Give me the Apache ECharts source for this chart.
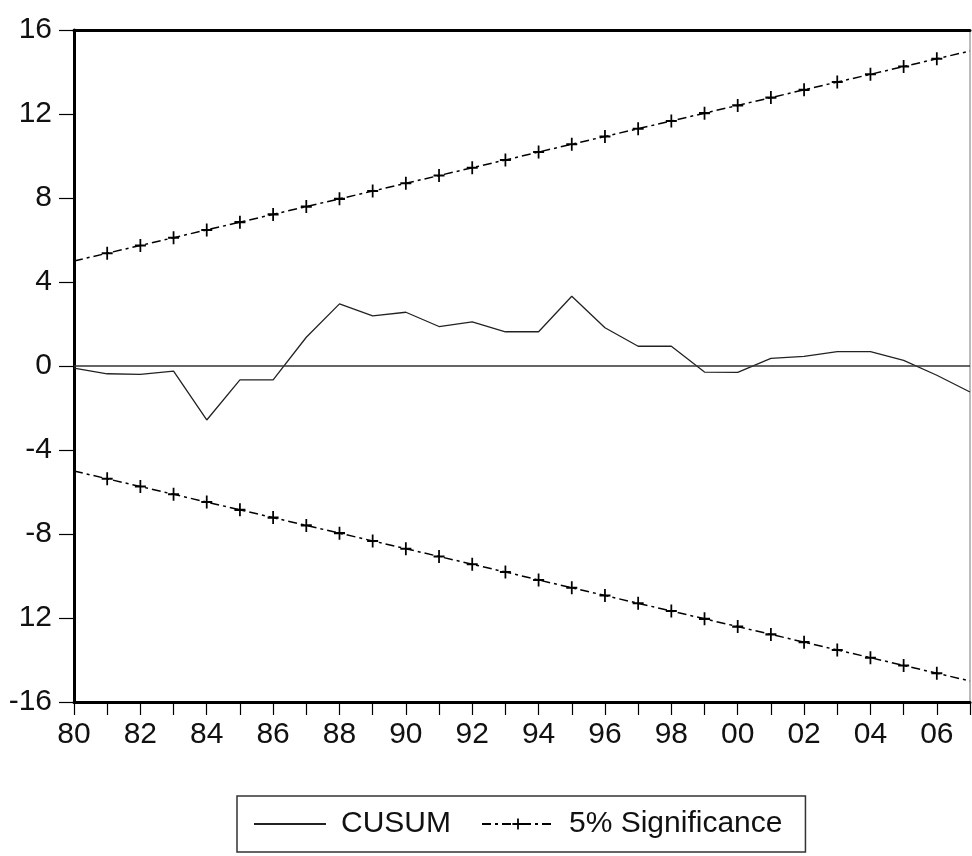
<!DOCTYPE html>
<html>
<head>
<meta charset="utf-8">
<script src="https://cdn.jsdelivr.net/npm/echarts@6/dist/echarts.min.js"></script>
<style>
html,body{margin:0;padding:0;background:#fff;}
#chart{width:972px;height:856px;}
</style>
</head>
<body>
<div id="chart"></div>
<script>
// Year labels (1980..2007)
var years = ['80','81','82','83','84','85','86','87','88','89','90','91','92','93','94','95','96','97','98','99','00','01','02','03','04','05','06','07'];

// CUSUM statistic
var cusum = [-0.10,-0.37,-0.40,-0.24,-2.57,-0.66,-0.66,1.37,2.96,2.39,2.56,1.88,2.10,1.63,1.63,3.32,1.82,0.94,0.94,-0.29,-0.30,0.36,0.46,0.68,0.68,0.27,-0.44,-1.24];

// 5% significance bounds
var upperBound = [5.00,5.37,5.74,6.11,6.48,6.85,7.22,7.59,7.96,8.33,8.70,9.07,9.44,9.81,10.19,10.56,10.93,11.30,11.67,12.04,12.41,12.78,13.15,13.52,13.89,14.26,14.63,15.00];
var lowerBound = [-5.00,-5.37,-5.74,-6.11,-6.48,-6.85,-7.22,-7.59,-7.96,-8.33,-8.70,-9.07,-9.44,-9.81,-10.19,-10.56,-10.93,-11.30,-11.67,-12.04,-12.41,-12.78,-13.15,-13.52,-13.89,-14.26,-14.63,-15.00];

// Y tick labels as printed in the reference (bottom to top)
var yTickLabels = ['-16','12','-8','-4','0','4','8','12','16'];

var FONT = 'Liberation Sans, Arial, sans-serif';
var crossPath = 'path://M4.2,0 H5.8 V4.2 H10 V5.8 H5.8 V10 H4.2 V5.8 H0 V4.2 H4.2 Z';

// end points sit on the frame: no marker there
function boundData(arr) {
  return arr.map(function (v, i) {
    return (i === 0 || i === arr.length - 1) ? {value: v, symbol: 'none'} : v;
  });
}

var chart = echarts.init(document.getElementById('chart'), null, {renderer:'canvas'});

var sigStyle = {
  type: 'line',
  name: '5% Significance',
  symbol: crossPath,
  symbolSize: [11, 13],
  showSymbol: true,
  showAllSymbol: true,
  itemStyle: {color: '#000'},
  lineStyle: {color: '#000', width: 1.5, type: [9, 4, 3, 4]},
  animation: false,
  silent: true,
  z: 3
};

chart.setOption({
  animation: false,
  backgroundColor: '#fff',
  textStyle: {fontFamily: FONT},
  grid: {
    left: 74, top: 30, right: 2, bottom: 154,
    show: true, borderColor: '#777', borderWidth: 1, backgroundColor: '#fff'
  },
  legend: {
    data: [
      {name: 'CUSUM', itemStyle: {color: 'rgba(0,0,0,0)', borderColor: 'rgba(0,0,0,0)', borderWidth: 0, opacity: 0}},
      {name: '5% Significance'}
    ],
    left: 237, top: 796,
    orient: 'horizontal',
    itemWidth: 72, itemHeight: 14, itemGap: 30,
    padding: [13, 23, 13, 16],
    borderColor: '#333', borderWidth: 1.5,
    textStyle: {fontFamily: FONT, fontSize: 30, color: '#111', padding: [0, 0, 0, 10]},
    selectedMode: false
  },
  xAxis: [{
    type: 'category',
    data: years,
    boundaryGap: false,
    axisLine: {show: true, onZero: false, lineStyle: {color: '#000', width: 3}},
    axisTick: {show: true, interval: 0, length: 13, lineStyle: {color: '#000', width: 1.2}},
    axisLabel: {interval: 1, margin: 18, fontSize: 30, fontFamily: FONT, color: '#111'},
    splitLine: {show: false}
  }, {
    type: 'category',
    data: years,
    position: 'top',
    boundaryGap: false,
    axisLine: {show: true, onZero: false, lineStyle: {color: '#000', width: 3}},
    axisTick: {show: false},
    axisLabel: {show: false},
    splitLine: {show: false}
  }],
  yAxis: {
    type: 'value',
    min: -16, max: 16, interval: 4,
    axisLine: {show: true, onZero: false, lineStyle: {color: '#000', width: 3}},
    axisTick: {show: true, length: 15, lineStyle: {color: '#000', width: 1.2}},
    axisLabel: {
      margin: 22, fontSize: 30, fontFamily: FONT, color: '#111',
      formatter: function (v) { return yTickLabels[Math.round((v + 16) / 4)]; }
    },
    splitLine: {show: false}
  },
  series: [
    {
      type: 'line',
      name: 'CUSUM',
      data: cusum,
      symbol: 'none',
      showSymbol: false,
      lineStyle: {color: '#222', width: 1.3},
      itemStyle: {color: '#222'},
      silent: true,
      z: 4,
      markLine: {
        silent: true,
        symbol: ['none', 'none'],
        label: {show: false},
        lineStyle: {color: '#333', width: 1.5, type: 'solid'},
        data: [{yAxis: 0}]
      }
    },
    Object.assign({}, sigStyle, {data: boundData(upperBound)}),
    Object.assign({}, sigStyle, {data: boundData(lowerBound)})
  ]
});
</script>
</body>
</html>
